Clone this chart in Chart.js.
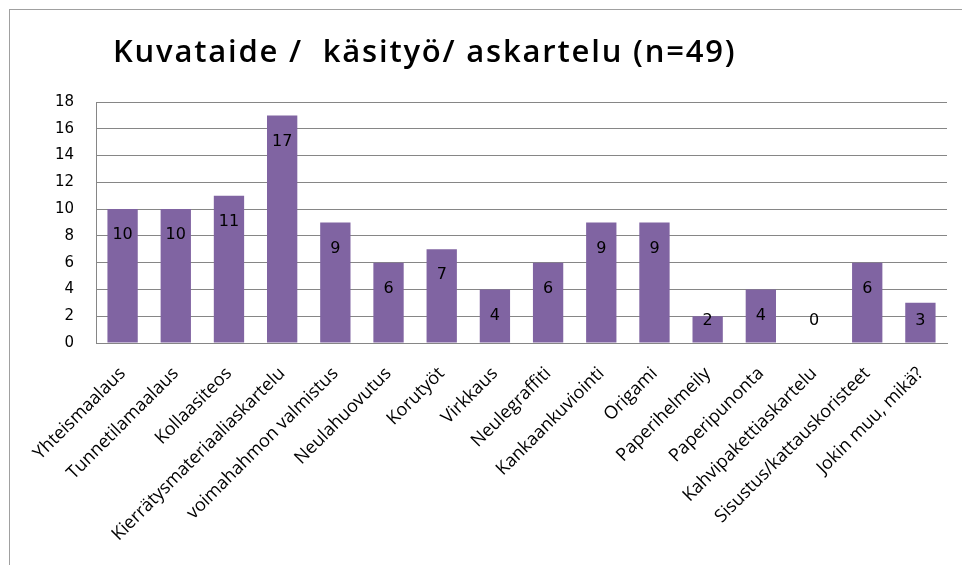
<!DOCTYPE html>
<html>
<head>
<meta charset="utf-8">
<script src="https://cdn.jsdelivr.net/npm/chart.js@4/dist/chart.umd.min.js"></script>
<style>
  body { margin: 0; background: #fff; }
  #frame { position: absolute; left: 9px; top: 9px; width: 1000px; height: 600px; border: 1px solid #a0a0a0; }
  #title { position: absolute; left: 113px; top: 29px; margin: 0; white-space: pre; letter-spacing: 1.8px;
           font-family: "Open Sans", sans-serif; font-weight: 600; font-size: 31px; color: #000; }
  #wrap { position: absolute; left: 0; top: 0; width: 962px; height: 565px; }
</style>
</head>
<body>
<div id="frame"></div>
<div id="wrap"><canvas id="chart"></canvas></div>
<h1 id="title">Kuvataide /  käsityö/ askartelu (n=49)</h1>
<script>
// categories and counts
const categories = [
  "Yhteismaalaus", "Tunnetilamaalaus", "Kollaasiteos", "Kierrätysmateriaaliaskartelu",
  "voimahahmon valmistus", "Neulahuovutus", "Korutyöt", "Virkkaus", "Neulegraffiti",
  "Kankaankuviointi", "Origami", "Paperihelmeily", "Paperipunonta",
  "Kahvipakettiaskartelu", "Sisustus/kattauskoristeet", "Jokin muu, mikä?"
];
const counts = [10, 10, 11, 17, 9, 6, 7, 4, 6, 9, 9, 2, 4, 0, 6, 3];
const yTicks = [0, 2, 4, 6, 8, 10, 12, 14, 16, 18];

// value labels near the top of each bar
const barLabels = {
  id: "barLabels",
  afterDatasetsDraw(chart) {
    const ctx = chart.ctx;
    const meta = chart.getDatasetMeta(0);
    ctx.save();
    ctx.font = "16px 'DejaVu Sans'";
    ctx.fillStyle = "#000";
    ctx.textAlign = "center";
    ctx.textBaseline = "middle";
    meta.data.forEach((bar, i) => {
      const y = Math.min(bar.y + 26, bar.base - 22);
      ctx.fillText(String(counts[i]), bar.x, y);
    });
    ctx.restore();
  }
};

const config = {
  type: "bar",
  data: {
    labels: categories,
    datasets: [{
      data: counts,
      backgroundColor: "#8064a2",
      borderWidth: 0,
      categoryPercentage: 1,
      barPercentage: 0.57
    }]
  },
  options: {
    responsive: true,
    maintainAspectRatio: false,
    animation: false,
    layout: { padding: { left: 40, right: 15, top: 102, bottom: 0 } },
    plugins: { legend: { display: false }, tooltip: { enabled: false } },
    scales: {
      x: {
        grid: { display: false },
        border: { color: "#868686", width: 1 },
        ticks: {
          color: "#000",
          font: { family: "Open Sans", size: 18 },
          maxRotation: 45, minRotation: 45,
          autoSkip: false,
          padding: 12
        },
        afterFit(scale) { scale.height = 222; }
      },
      y: {
        min: 0, max: 18,
        afterBuildTicks(scale) { scale.ticks = yTicks.map(v => ({ value: v })); },
        grid: { color: "#868686", lineWidth: 1, drawTicks: false },
        border: { color: "#868686", width: 1 },
        ticks: {
          color: "#000",
          font: { family: "DejaVu Sans", size: 15 },
          padding: 22
        },
        afterFit(scale) { scale.width = 56; }
      }
    }
  },
  plugins: [barLabels]
};

const myChart = new Chart(document.getElementById("chart"), config);
</script>
</body>
</html>
